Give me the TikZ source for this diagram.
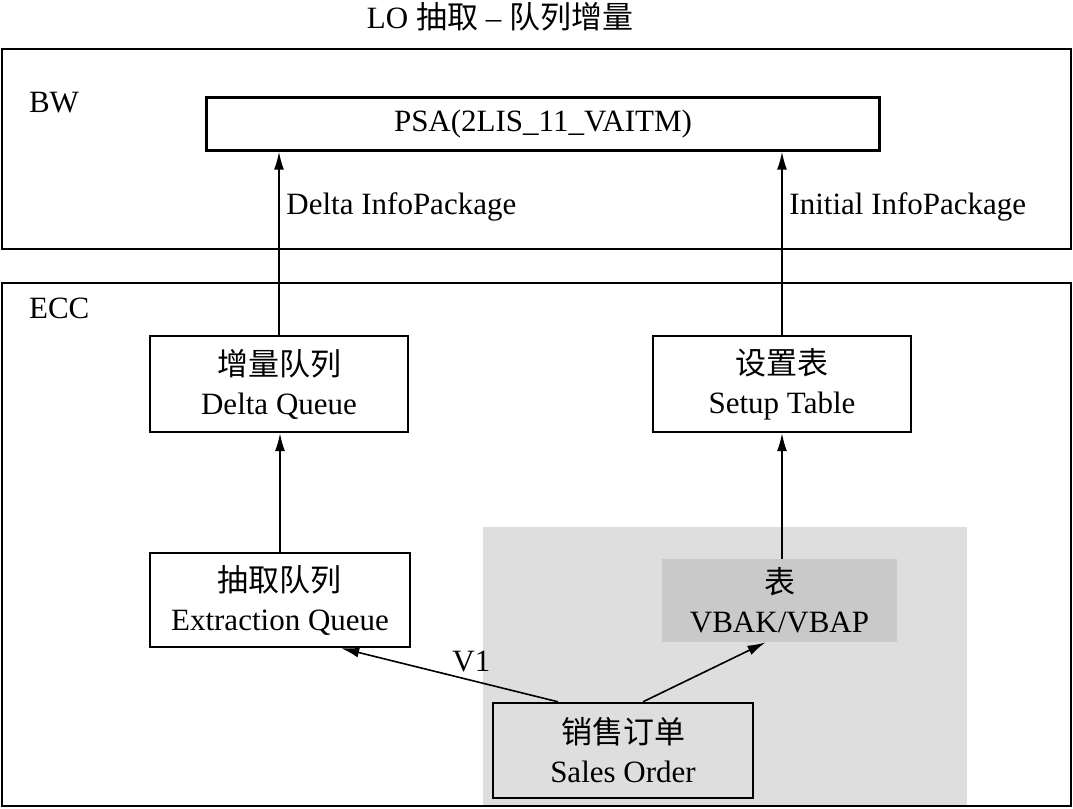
\documentclass[tikz,border=0pt]{standalone}
\usepackage{fontspec}
\setmainfont{Liberation Serif}
\newfontfamily\cjk{Noto Sans CJK SC}
\usepackage{tikz}
\usetikzlibrary{arrows.meta, positioning, calc}

\definecolor{shadelight}{gray}{0.87}
\definecolor{shadedark}{gray}{0.79}

\begin{document}
\begin{tikzpicture}[
  x=0.5pt, y=-0.5pt,
  every node/.style={font=\fontsize{15.5pt}{19.5pt}\selectfont, align=center},
  frame/.style={draw, line width=1.1pt},
  box/.style={draw, line width=1.2pt, minimum width=129pt, minimum height=48pt,
              inner sep=2pt},
  shbox/.style={fill=shadedark, minimum width=117.5pt, minimum height=41.5pt,
              inner sep=2pt},
  arr/.style={-{Latex[length=9pt, width=5pt]}, line width=0.8pt},
]
  \useasboundingbox (0,0) rectangle (1073,809);

  % frames
  \node (title) at (500,17) {LO {\cjk 抽取} -- {\cjk 队列增量}};
  \draw[frame] (2,49) rectangle (1071,249);
  \draw[frame] (2,283) rectangle (1071,806);
  \fill[shadelight] (483,527) rectangle (967,805);
  \node[right] (bw)  at (22,103) {BW};
  \node[right] (ecc) at (22,308) {ECC};

  % nodes
  \node[box, minimum width=336.5pt, minimum height=26.5pt] (psa) at (543,124) {PSA(2LIS\_11\_VAITM)};
  \node[box] (dq)  at (279,384)   {{\cjk 增量队列}\\Delta Queue};
  \node[box] (st)  at (782,384)   {{\cjk 设置表}\\Setup Table};
  \node[box, minimum width=130pt, minimum height=47pt] (eq) at (280,600) {{\cjk 抽取队列}\\Extraction Queue};
  \node[shbox] (vb) at (779.5,600.5) {{\cjk 表}\\VBAK/VBAP};
  \node[box, fill=shadelight, minimum width=130pt, minimum height=47.5pt] (so) at (623,750.5) {{\cjk 销售订单}\\Sales Order};

  % connectors
  \draw[arr] (dq.north) -- node[right, pos=0.7] {Delta InfoPackage} (dq.north |- psa.south);
  \draw[arr] (st.north) -- node[right, pos=0.7] {Initial InfoPackage} (st.north |- psa.south);
  \draw[arr] (eq.north) -- (eq.north |- dq.south);
  \draw[arr] (vb.north -| st.south) -- (st.south);
  \draw[arr] ([xshift=-32.5pt]so.north) -- node[above right, pos=0.5, inner sep=1pt] {V1} ([xshift=-35pt]eq.south east);
  \draw[arr] ([xshift=10pt]so.north) -- ([xshift=-7pt]vb.south);
\end{tikzpicture}
\end{document}
